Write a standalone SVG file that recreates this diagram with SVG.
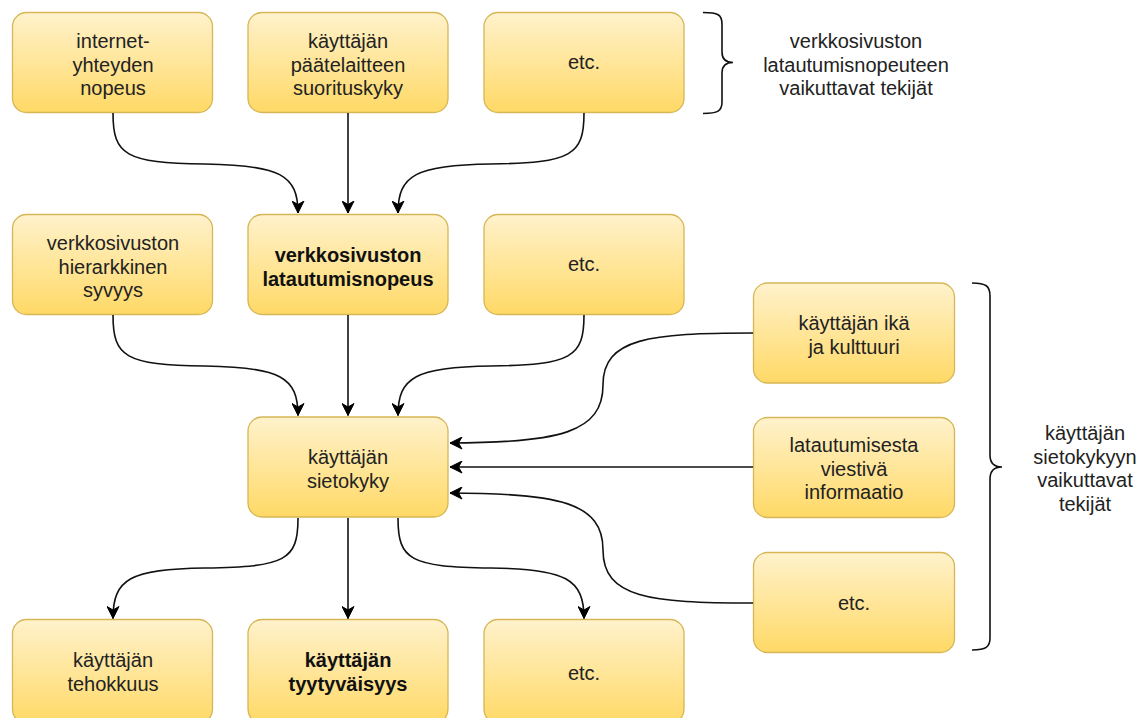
<svg xmlns="http://www.w3.org/2000/svg" width="1145" height="718" viewBox="0 0 1145 718">
<defs>
<linearGradient id="g" x1="0" y1="0" x2="0" y2="1">
<stop offset="0" stop-color="#fff2cc"/>
<stop offset="1" stop-color="#ffd966"/>
</linearGradient>
<marker id="ah" markerUnits="userSpaceOnUse" viewBox="0 0 13 13" refX="12.5" refY="6.5" markerWidth="13" markerHeight="13" orient="auto">
<path d="M0.5,0.5 L12.5,6.5 L0.5,12.5 L4,6.5 Z" fill="#000" stroke="#000" stroke-width="1" stroke-linejoin="miter"/>
</marker>
</defs>
<style>
.box{fill:url(#g);stroke:#d6b656;stroke-width:1.3}
.t{font-family:"Liberation Sans",Arial,sans-serif;font-size:20px;fill:#222;text-anchor:middle}
.b{font-weight:bold;fill:#111}
.e{fill:none;stroke:#111;stroke-width:1.6;marker-end:url(#ah)}
.br{fill:none;stroke:#111;stroke-width:1.6}
</style>
<rect width="1145" height="718" fill="#fff"/>

<g id="n1"><rect class="box" x="12.5" y="12.5" width="200" height="100" rx="14"/>
<text class="t" x="113" y="48">internet-</text><text class="t" x="113" y="71.5">yhteyden</text><text class="t" x="113" y="95">nopeus</text></g>
<g id="n2"><rect class="box" x="248" y="12.5" width="200" height="100" rx="14"/>
<text class="t" x="348" y="48">käyttäjän</text><text class="t" x="348" y="71.5">päätelaitteen</text><text class="t" x="348" y="95">suorituskyky</text></g>
<g id="n3"><rect class="box" x="484" y="12.5" width="200" height="100" rx="14"/>
<text class="t" x="584" y="69">etc.</text></g>

<g id="n4"><rect class="box" x="12.5" y="214.5" width="200" height="100" rx="14"/>
<text class="t" x="113" y="250">verkkosivuston</text><text class="t" x="113" y="273.5">hierarkkinen</text><text class="t" x="113" y="297">syvyys</text></g>
<g id="n5"><rect class="box" x="248" y="214.5" width="200" height="100" rx="14"/>
<text class="t b" x="348" y="262">verkkosivuston</text><text class="t b" x="348" y="285.5">latautumisnopeus</text></g>
<g id="n6"><rect class="box" x="484" y="214.5" width="200" height="100" rx="14"/>
<text class="t" x="584" y="271">etc.</text></g>

<g id="n7"><rect class="box" x="248" y="417" width="200" height="100" rx="14"/>
<text class="t" x="348" y="464">käyttäjän</text><text class="t" x="348" y="487.5">sietokyky</text></g>

<g id="n8"><rect class="box" x="753.5" y="283" width="201" height="100" rx="14"/>
<text class="t" x="854" y="330">käyttäjän ikä</text><text class="t" x="854" y="353.5">ja kulttuuri</text></g>
<g id="n9"><rect class="box" x="753.5" y="417.5" width="201" height="100" rx="14"/>
<text class="t" x="854" y="452">latautumisesta</text><text class="t" x="854" y="475.5">viestivä</text><text class="t" x="854" y="499">informaatio</text></g>
<g id="n10"><rect class="box" x="753.5" y="552.5" width="201" height="100" rx="14"/>
<text class="t" x="854" y="610">etc.</text></g>

<g id="n11"><rect class="box" x="12.5" y="619.5" width="200" height="104" rx="14"/>
<text class="t" x="113" y="667">käyttäjän</text><text class="t" x="113" y="690.5">tehokkuus</text></g>
<g id="n12"><rect class="box" x="248" y="619.5" width="200" height="104" rx="14"/>
<text class="t b" x="348" y="667">käyttäjän</text><text class="t b" x="348" y="690.5">tyytyväisyys</text></g>
<g id="n13"><rect class="box" x="484" y="619.5" width="200" height="104" rx="14"/>
<text class="t" x="584" y="680">etc.</text></g>

<g id="brace1"><path class="br" d="M703 12.5 C718 12.5 722 14.5 722 24 L722 52 C722 59 725 62.5 733 62.5 C725 62.5 722 66 722 73 L722 102 C722 111 718 113.5 703 113.5"/>
<text class="t" x="856" y="48">verkkosivuston</text><text class="t" x="856" y="71.5">latautumisnopeuteen</text><text class="t" x="856" y="95">vaikuttavat tekijät</text></g>
<g id="brace2"><path class="br" d="M972 283 C986 283 990 286 990 296 L990 455 C990 463 994 467 1002 467 C994 467 990 471 990 479 L990 638 C990 647 986 650 972 650"/>
<text class="t" x="1085" y="440">käyttäjän</text><text class="t" x="1085" y="463.5">sietokykyyn</text><text class="t" x="1085" y="487">vaikuttavat</text><text class="t" x="1085" y="510.5">tekijät</text></g>

<g id="connectors">
<path class="e" d="M113 113 C113 155 125 163 205 164 C280 165 298 175 298 213"/>
<path class="e" d="M348 113 L348 213"/>
<path class="e" d="M584 113 C584 155 572 163 491 164 C416 165 398 175 398 213"/>
<path class="e" d="M113 315 C113 357 125 365 205 366 C280 367 298 377 298 415.5"/>
<path class="e" d="M348 315 L348 415.5"/>
<path class="e" d="M584 315 C584 357 572 365 491 366 C416 367 398 377 398 415.5"/>
<path class="e" d="M298 518 C298 560 286 567 205 568 C130 569 113 579 113 618.5"/>
<path class="e" d="M348 518 L348 618.5"/>
<path class="e" d="M398 518 C398 560 410 567 491 568 C566 569 584 579 584 618.5"/>
<path class="e" d="M753 333 C650 333 603 338 603 385 C603 432 560 443 450 443"/>
<path class="e" d="M753 467 L450 467"/>
<path class="e" d="M753 603 C650 603 603 598 603 550 C603 503 560 493 450 493"/>
</g>
</svg>
